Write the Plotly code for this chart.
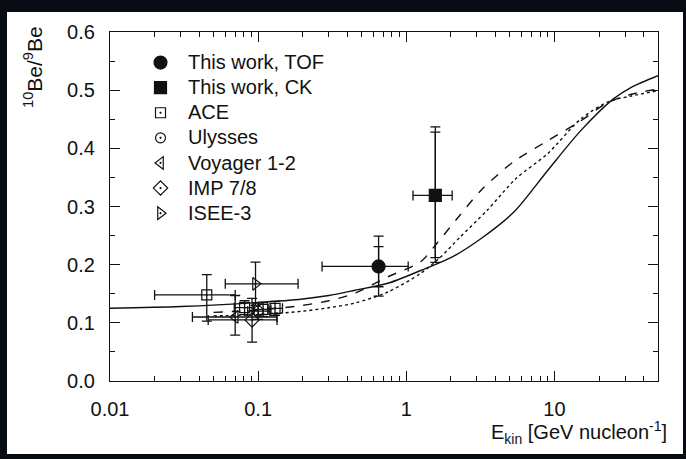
import numpy as np
import plotly.graph_objects as go

# --- model curves (10Be/9Be vs kinetic energy per nucleon) ---
solid_x = [0.01, 0.03, 0.1, 0.2, 0.3, 0.45, 0.75, 1.25, 2.0, 3.2, 5.3, 9, 15, 25, 33, 50]
solid_y = [0.125, 0.128, 0.135, 0.141, 0.147, 0.156, 0.168, 0.19, 0.212, 0.245, 0.29, 0.362, 0.43, 0.485, 0.505, 0.525]
dash_x = [0.05, 0.1, 0.2, 0.3, 0.45, 0.75, 1.25, 1.6, 2.3, 3.2, 5.3, 9, 15, 23, 33, 50]
dash_y = [0.118, 0.122, 0.13, 0.138, 0.151, 0.179, 0.205, 0.236, 0.285, 0.328, 0.377, 0.413, 0.447, 0.479, 0.493, 0.502]
dot_x = [0.05, 0.1, 0.2, 0.3, 0.45, 0.75, 1.25, 1.7, 2.3, 3.5, 5.5, 9, 15, 23, 33, 50]
dot_y = [0.112, 0.114, 0.12, 0.126, 0.134, 0.153, 0.185, 0.213, 0.247, 0.293, 0.348, 0.391, 0.45, 0.48, 0.49, 0.499]

# --- measurements: x, y, x-errors (minus, plus), y-errors (minus, plus) ---
tof_x, tof_y = [0.65], [0.197]
tof_xm, tof_xp = [0.38], [0.38]
tof_ym, tof_yp = [0.051], [0.052]
tof_stat_ym, tof_stat_yp = [0.035], [0.034]

ck_x, ck_y = [1.57], [0.319]
ck_xm, ck_xp = [0.46], [0.47]
ck_ym, ck_yp = [0.115], [0.118]
ck_stat_ym, ck_stat_yp = [0.107], [0.109]

ace_x, ace_y = [0.045, 0.081, 0.108, 0.13], [0.148, 0.126, 0.123, 0.125]
ace_xm, ace_xp = [0.025, 0.012, 0.014, 0.014], [0.025, 0.012, 0.014, 0.016]
ace_ym, ace_yp = [0.045, 0.012, 0.012, 0.012], [0.035, 0.012, 0.012, 0.012]

uly_x, uly_y = [0.1], [0.12]
uly_xm, uly_xp = [0.015], [0.02]
uly_ym, uly_yp = [0.014], [0.014]

voy_x, voy_y = [0.07], [0.110]
voy_xm, voy_xp = [0.034], [0.064]
voy_ym, voy_yp = [0.031], [0.037]

imp_x, imp_y = [0.091], [0.105]
imp_xm, imp_xp = [0.045], [0.043]
imp_ym, imp_yp = [0.038], [0.037]

isee_x, isee_y = [0.096], [0.167]
isee_xm, isee_xp = [0.036], [0.09]
isee_ym, isee_yp = [0.037], [0.0375]

INK = "#111111"
FONT = "Liberation Sans, Arial, sans-serif"

fig = go.Figure()

# model curves
for xs, ys, dash in [(solid_x, solid_y, "solid"), (dash_x, dash_y, "dash"), (dot_x, dot_y, "dot")]:
    fig.add_trace(go.Scatter(x=xs, y=ys, mode="lines",
                             line=dict(color=INK, width=1.4, dash=dash, shape="spline", smoothing=0.8),
                             showlegend=False, hoverinfo="skip"))


def err(arr_m, arr_p, width=5):
    return dict(type="data", symmetric=False, array=arr_p, arrayminus=arr_m,
                color=INK, thickness=1.3, width=width)


def points(name, xs, ys, xm, xp, ym, yp, symbol, size):
    fig.add_trace(go.Scatter(
        x=xs, y=ys, mode="markers",
        name=f'<span style="font-size:20px">{name}</span>',
        marker=dict(symbol=symbol, size=size, color=INK, line=dict(color=INK, width=1.2)),
        error_x=err(xm, xp), error_y=err(ym, yp),
    ))


# statistical-only caps for this work
fig.add_trace(go.Scatter(x=tof_x, y=tof_y, mode="markers", marker=dict(size=1, opacity=0),
                         error_y=err(tof_stat_ym, tof_stat_yp), showlegend=False, hoverinfo="skip"))
fig.add_trace(go.Scatter(x=ck_x, y=ck_y, mode="markers", marker=dict(size=1, opacity=0),
                         error_y=err(ck_stat_ym, ck_stat_yp), showlegend=False, hoverinfo="skip"))

points("This work, TOF", tof_x, tof_y, tof_xm, tof_xp, tof_ym, tof_yp, "circle", 13)
points("This work, CK", ck_x, ck_y, ck_xm, ck_xp, ck_ym, ck_yp, "square", 12)
points("ACE", ace_x, ace_y, ace_xm, ace_xp, ace_ym, ace_yp, "square-open-dot", 10)
points("Ulysses", uly_x, uly_y, uly_xm, uly_xp, uly_ym, uly_yp, "circle-open-dot", 10)
points("Voyager 1-2", voy_x, voy_y, voy_xm, voy_xp, voy_ym, voy_yp, "triangle-left-open-dot", 11)
points("IMP 7/8", imp_x, imp_y, imp_xm, imp_xp, imp_ym, imp_yp, "diamond-open-dot", 11)
points("ISEE-3", isee_x, isee_y, isee_xm, isee_xp, isee_ym, isee_yp, "triangle-right-open-dot", 11)

L, R, T, B = 110, 28, 32, 78
W, H = 686, 459
pw, ph = W - L - R, H - T - B


def px_x(p):
    return (p - L) / pw


def px_y(p):
    return (H - B - p) / ph


axis_common = dict(showline=True, linecolor=INK, linewidth=1.3, mirror="allticks", ticks="inside",
                   tickcolor=INK, tickwidth=1.3, ticklen=10, showgrid=False, zeroline=False,
                   tickfont=dict(family=FONT, size=20, color=INK))

fig.update_layout(
    width=W, height=H,
    margin=dict(l=L, r=R, t=T, b=B),
    paper_bgcolor="#070b12",
    plot_bgcolor="white",
    font=dict(family=FONT, color=INK),
    xaxis=dict(type="log", range=[-2, np.log10(50)], dtick=1, ticklabelstandoff=10,
               minor=dict(ticks="inside", ticklen=5, tickcolor=INK, tickwidth=1.2, dtick="D1", showgrid=False),
               **axis_common),
    yaxis=dict(range=[0, 0.6], dtick=0.1, tickformat=".1f", ticklabelstandoff=10,
               minor=dict(ticks="inside", ticklen=5, tickcolor=INK, tickwidth=1.2, dtick=0.05, showgrid=False),
               **axis_common),
    legend=dict(x=px_x(133), y=px_y(45), xanchor="left", yanchor="top", bgcolor="rgba(0,0,0,0)",
                font=dict(family=FONT, size=17, color=INK), itemsizing="trace", itemwidth=45,
                tracegroupgap=0),
    shapes=[dict(type="rect", xref="paper", yref="paper", layer="below",
                 x0=px_x(7), x1=px_x(683), y0=px_y(454), y1=px_y(12),
                 fillcolor="white", line=dict(width=0))],
    annotations=[
        dict(text="E<sub>kin</sub> [GeV nucleon<sup>-1</sup>]", xref="paper", yref="paper",
             x=px_x(669), y=px_y(432), xanchor="right", yanchor="middle", showarrow=False,
             font=dict(family=FONT, size=20, color=INK)),
        dict(text="<sup>10</sup>Be/<sup>9</sup>Be", xref="paper", yref="paper", textangle=-90,
             x=px_x(33), y=px_y(67), xanchor="center", yanchor="middle", showarrow=False,
             font=dict(family=FONT, size=21, color=INK)),
    ],
)

fig.write_html("out.html")
